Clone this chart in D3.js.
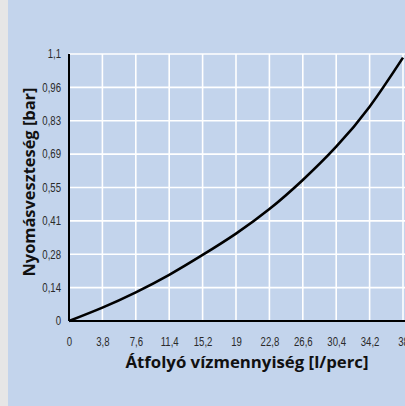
<!DOCTYPE html>
<html>
<head>
<meta charset="utf-8">
<script src="https://cdn.jsdelivr.net/npm/d3@7/dist/d3.min.js"></script>
<style>
  html, body { margin: 0; padding: 0; background: #c3d4ec; overflow: hidden; }
  svg { display: block; }
</style>
</head>
<body>
<script>
// Flow rate [l/perc] and pressure loss [bar]
const flowRates = [0, 3.8, 7.6, 11.4, 15.2, 19, 22.8, 26.6, 30.4, 34.2, 38];
const pressureLoss = [0, 0.055, 0.118, 0.19, 0.272, 0.36, 0.461, 0.581, 0.718, 0.883, 1.085];

// Axis ticks and their printed labels
const xTicks = [0, 3.8, 7.6, 11.4, 15.2, 19, 22.8, 26.6, 30.4, 34.2, 38];
const xTickLabels = ["0", "3,8", "7,6", "11,4", "15,2", "19", "22,8", "26,6", "30,4", "34,2", "38"];
const yTicks = [0, 0.1375, 0.275, 0.4125, 0.55, 0.6875, 0.825, 0.9625, 1.1];
const yTickLabels = ["0", "0,14", "0,28", "0,41", "0,55", "0,69", "0,83", "0,96", "1,1"];

const xTitle = "Átfolyó vízmennyiség [l/perc]";
const yTitle = "Nyomásveszteség [bar]";

const W = 405, H = 406;
const plot = { left: 69, right: 403, top: 54, bottom: 321 };

const svg = d3.select("body").append("svg").attr("width", W).attr("height", H);

svg.append("rect").attr("width", W).attr("height", H).attr("fill", "#c3d4ec");
svg.append("rect").attr("width", 8).attr("height", H).attr("fill", "#e6e6e6");

const x = d3.scaleLinear().domain([0, 38]).range([plot.left, plot.right]);
const y = d3.scaleLinear().domain([0, 1.1]).range([plot.bottom, plot.top]);

// White grid
const grid = svg.append("g").attr("stroke", "#ffffff").attr("stroke-width", 1.6);
grid.selectAll("line.v").data(xTicks.slice(1)).join("line")
  .attr("x1", d => x(d)).attr("x2", d => x(d))
  .attr("y1", plot.top).attr("y2", plot.bottom);
grid.selectAll("line.h").data(yTicks.slice(1)).join("line")
  .attr("x1", plot.left).attr("x2", W)
  .attr("y1", d => y(d)).attr("y2", d => y(d));

// Narrow-looking tick labels: a regular sans squeezed horizontally
const tickFont = "'Liberation Sans', Arial, sans-serif";
const squeeze = 0.8;

// X axis
const xAxis = d3.axisBottom(x).tickValues(xTicks)
  .tickFormat((d, i) => xTickLabels[i]).tickSize(0).tickPadding(16);
const gx = svg.append("g").attr("transform", `translate(0,${plot.bottom})`).call(xAxis);
gx.select(".domain").attr("stroke", "#000").attr("stroke-width", 2)
  .attr("d", `M${plot.left},0H${W}`);
gx.selectAll("text").attr("font-family", tickFont).attr("font-size", 12)
  .attr("transform", `scale(${squeeze},1)`).attr("fill", "#2a2a2a");

// Y axis
const yAxis = d3.axisLeft(y).tickValues(yTicks)
  .tickFormat((d, i) => yTickLabels[i]).tickSize(0).tickPadding(8);
const gy = svg.append("g").attr("transform", `translate(${plot.left},0)`).call(yAxis);
gy.select(".domain").attr("stroke", "#000").attr("stroke-width", 2)
  .attr("d", `M0,${plot.top}V${plot.bottom}`);
gy.selectAll("text").attr("font-family", tickFont).attr("font-size", 12)
  .attr("x", -8 / squeeze)
  .attr("transform", `scale(${squeeze},1)`).attr("fill", "#2a2a2a");

// Pressure-loss curve
const line = d3.line().x(d => x(d[0])).y(d => y(d[1])).curve(d3.curveNatural);
svg.append("path")
  .datum(flowRates.map((f, i) => [f, pressureLoss[i]]))
  .attr("d", line)
  .attr("fill", "none").attr("stroke", "#000").attr("stroke-width", 2.6);

// Axis titles
svg.append("text")
  .attr("x", 247).attr("y", 368).attr("text-anchor", "middle")
  .attr("font-family", "'Open Sans', sans-serif").attr("font-weight", 700).attr("font-size", 16)
  .attr("textLength", 243).attr("lengthAdjust", "spacingAndGlyphs")
  .attr("fill", "#111").text(xTitle);

svg.append("text")
  .attr("transform", "translate(35,182) rotate(-90)").attr("text-anchor", "middle")
  .attr("font-family", "'Open Sans', sans-serif").attr("font-weight", 700).attr("font-size", 16)
  .attr("textLength", 189).attr("lengthAdjust", "spacingAndGlyphs")
  .attr("fill", "#111").text(yTitle);
</script>
</body>
</html>
